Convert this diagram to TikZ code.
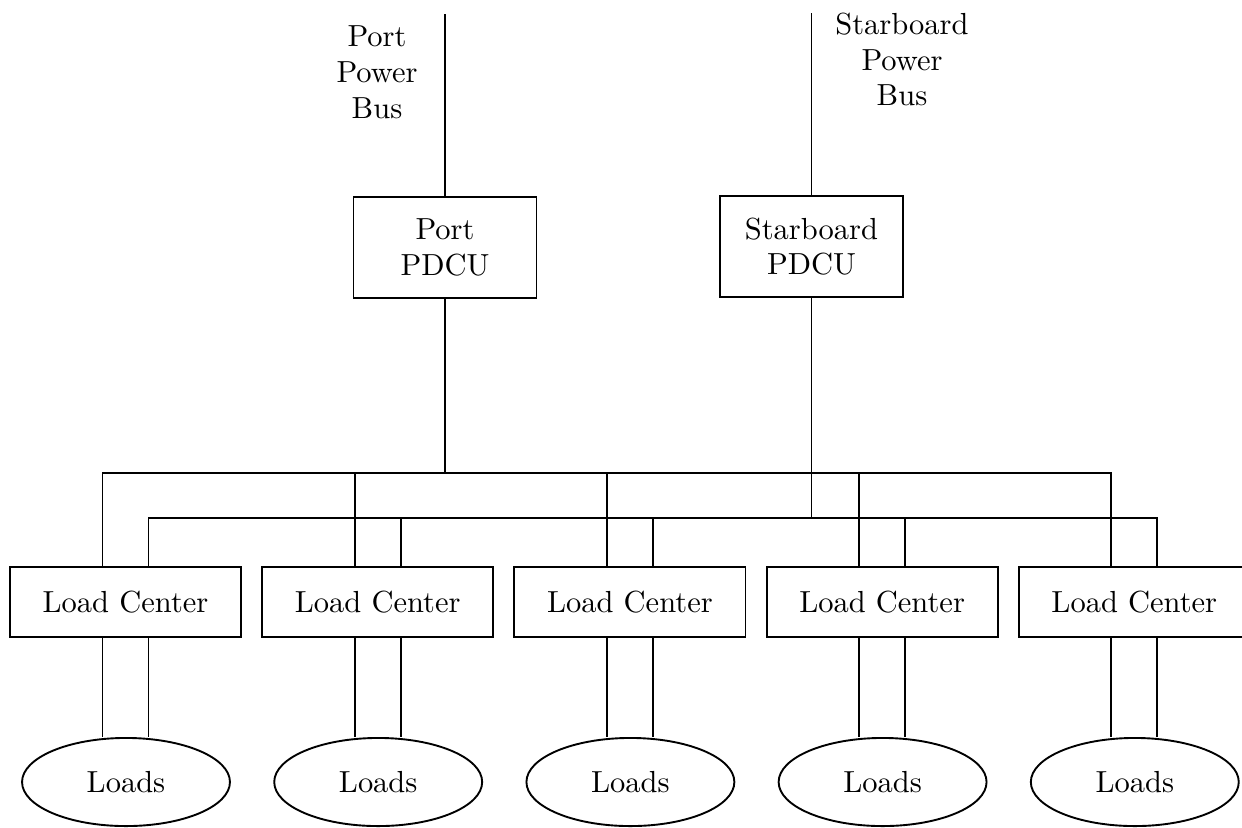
\documentclass[tikz,border=0pt]{standalone}
\usetikzlibrary{shapes.geometric,calc}
\begin{document}
\begin{tikzpicture}[x=0.328pt,y=-0.328pt,line width=0.62pt,
  font=\fontsize{10}{11.7}\selectfont,
  unitbox/.style={draw,rectangle,inner sep=0pt,align=center},
  lcbox/.style={unitbox,minimum width=75.8pt,minimum height=23pt},
  pdcubox/.style={unitbox,minimum width=60pt,minimum height=33.1pt},
  loadsell/.style={draw,ellipse,inner sep=0pt,minimum width=68.2pt,minimum height=28.9pt},
  buslabel/.style={align=center,inner sep=0pt,anchor=north}]
\useasboundingbox (0,0) rectangle (1242,827);
\clip (0,0) rectangle (1242,827);

% power buses and their distribution control units
\node[buslabel] (portlbl) at (377,25) {Port\\Power\\Bus};
\node[buslabel] (stbdlbl) at (902,12) {Starboard\\Power\\Bus};
\node[pdcubox] (ppdcu) at (445,247.5) {Port\\PDCU};
\node[pdcubox] (spdcu) at (811.5,246.5) {Starboard\\PDCU};
\coordinate (ptop) at (445,14);
\coordinate (stop) at (811.5,13);
\draw (ptop) -- (ppdcu.north);
\draw (stop) -- (spdcu.north);

% load centers and their loads
\foreach \i in {1,...,5}{
  \node[lcbox] (lc\i) at ({125.5+252.2*(\i-1)},602) {Load Center};
  \node[loadsell] (ld\i) at ({126+252.2*(\i-1)},782) {Loads};
  \coordinate (a\i) at ($(lc\i.north)+(-23,0)$);
  \coordinate (b\i) at ($(lc\i.north)+(23,0)$);
}
\coordinate (busA) at (445,473);
\coordinate (busB) at (811.5,518);

% port feeder
\draw (ppdcu.south) -- (ppdcu.south |- busA);
\draw (a1) |- (a5 |- busA) -- (a5);
\foreach \i in {2,3,4}{\draw (a\i) -- (a\i |- busA);}

% starboard feeder
\draw (spdcu.south) -- (spdcu.south |- busB);
\draw (b1) |- (b5 |- busB) -- (b5);
\foreach \i in {2,3,4}{\draw (b\i) -- (b\i |- busB);}

% load center to loads
\foreach \i in {1,...,5}{
  \draw (a\i |- lc\i.south) -- (a\i |- ld\i.north);
  \draw (b\i |- lc\i.south) -- (b\i |- ld\i.north);
}
\end{tikzpicture}
\end{document}
